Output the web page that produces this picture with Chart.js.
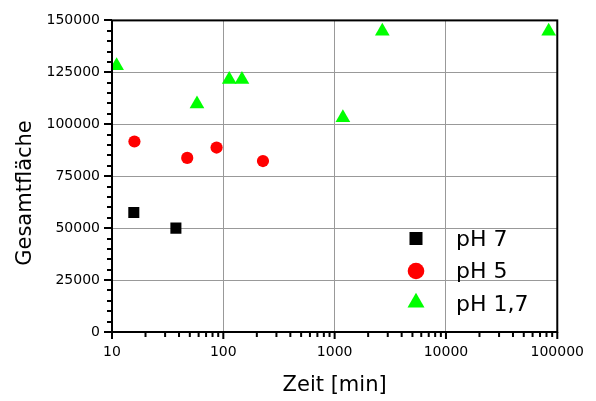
<!DOCTYPE html>
<html>
<head>
<meta charset="utf-8">
<script src="https://cdn.jsdelivr.net/npm/chart.js@4/dist/chart.umd.min.js"></script>
<style>
  html, body { margin: 0; padding: 0; background: #fff; }
  canvas { display: block; }
</style>
</head>
<body>
<canvas id="c" width="596" height="401"></canvas>
<script>
// ---- data ----
const seriesLabels = ['pH 7', 'pH 5', 'pH 1,7'];

const ph7Time = [15.7, 37.5];
const ph7Area = [57500, 50000];

const ph5Time = [15.9, 47.4, 87, 227];
const ph5Area = [91700, 83800, 88800, 82300];

const ph17Time = [11, 58, 113, 147, 1186, 2680, 83700];
const ph17Area = [128200, 109800, 121600, 121600, 103100, 144800, 144800];

const xTickValues = [10, 100, 1000, 10000, 100000];
const yTickValues = [0, 25000, 50000, 75000, 100000, 125000, 150000];
const yMinorStep = 5000;

const xTitle = 'Zeit [min]';
const yTitle = 'Gesamtfläche';

const FONT = 'DejaVu Sans';

function pts(xs, ys) { return xs.map((x, i) => ({ x: x, y: ys[i] })); }

const framePlugin = {
  id: 'frameAndTicks',
  afterDatasetsDraw(chart) {
    const ctx = chart.ctx;
    const a = chart.chartArea;
    const xs = chart.scales.x, ys = chart.scales.y;
    ctx.save();
    ctx.strokeStyle = '#000';
    ctx.lineWidth = 2;
    ctx.strokeRect(a.left, a.top, a.right - a.left, a.bottom - a.top);
    // y ticks (outward, left)
    ctx.beginPath();
    for (let v = yTickValues[0]; v <= yTickValues[yTickValues.length - 1]; v += yMinorStep) {
      const py = Math.round(ys.getPixelForValue(v));
      const major = yTickValues.includes(v);
      const len = major ? 8 : 5;
      ctx.moveTo(a.left - len, py);
      ctx.lineTo(a.left, py);
    }
    ctx.stroke();
    // x ticks (outward, down)
    ctx.beginPath();
    for (let d = 0; d < xTickValues.length; d++) {
      const base = xTickValues[d];
      const px = xs.getPixelForValue(base);
      ctx.moveTo(px, a.bottom);
      ctx.lineTo(px, a.bottom + 7);
      if (d < xTickValues.length - 1) {
        for (let m = 2; m <= 9; m++) {
          const mx = xs.getPixelForValue(base * m);
          ctx.moveTo(mx, a.bottom);
          ctx.lineTo(mx, a.bottom + 5);
        }
      }
    }
    ctx.stroke();
    ctx.restore();
  },
  afterDraw(chart) {
    const ctx = chart.ctx;
    const H = Chart.helpers;
    // y axis title (placed as in the reference, below the plot's centre)
    ctx.save();
    ctx.translate(26, 193);
    ctx.rotate(-Math.PI / 2);
    ctx.fillStyle = '#000';
    ctx.font = '21px "' + FONT + '"';
    ctx.textAlign = 'center';
    ctx.textBaseline = 'middle';
    ctx.fillText(yTitle, 0, 0);
    ctx.restore();

    // legend inside plot area
    const items = [
      { style: 'rect', r: 9.2, color: '#000000', cy: 238.5 },
      { style: 'circle', r: 8.3, color: '#ff0000', cy: 271 },
      { style: 'triangle', r: 9.8, color: '#00ff00', cy: 302.5 }
    ];
    const textY = [240.2, 272.2, 305.5];
    ctx.save();
    items.forEach((it, i) => {
      ctx.fillStyle = it.color;
      ctx.strokeStyle = it.color;
      H.drawPoint(ctx, { pointStyle: it.style, radius: it.r, rotation: 0, borderWidth: 0 }, 416, it.cy);
      ctx.fillStyle = '#000';
      ctx.font = '22px "' + FONT + '"';
      ctx.textAlign = 'left';
      ctx.textBaseline = 'middle';
      ctx.fillText(seriesLabels[i], 456, textY[i]);
    });
    ctx.restore();
  }
};

new Chart(document.getElementById('c'), {
  type: 'scatter',
  data: {
    datasets: [
      { label: seriesLabels[0], data: pts(ph7Time, ph7Area), pointStyle: 'rect', pointRadius: 7.8,
        backgroundColor: '#000000', borderColor: '#000000', borderWidth: 0, clip: 0 },
      { label: seriesLabels[1], data: pts(ph5Time, ph5Area), pointStyle: 'circle', pointRadius: 6.1,
        backgroundColor: '#ff0000', borderColor: '#ff0000', borderWidth: 0, clip: 0 },
      { label: seriesLabels[2], data: pts(ph17Time, ph17Area), pointStyle: 'triangle', pointRadius: 8.5,
        backgroundColor: '#00ff00', borderColor: '#00ff00', borderWidth: 0, clip: 0 }
    ]
  },
  options: {
    responsive: false,
    animation: false,
    layout: { padding: { top: 17, right: 36, left: 0, bottom: 0 } },
    plugins: { legend: { display: false }, tooltip: { enabled: false } },
    scales: {
      x: {
        type: 'logarithmic',
        min: xTickValues[0],
        max: xTickValues[xTickValues.length - 1],
        afterBuildTicks: (s) => { s.ticks = xTickValues.map(v => ({ value: v })); },
        afterFit: (s) => { s.height = 69; },
        ticks: {
          autoSkip: false, maxRotation: 0, padding: 12, color: '#000',
          font: { family: FONT, size: 14 },
          callback: (v) => String(v)
        },
        grid: {
          drawTicks: false, lineWidth: 1,
          color: (c) => (c.tick && (c.tick.value === xTickValues[0] || c.tick.value === xTickValues[xTickValues.length - 1])) ? 'rgba(0,0,0,0)' : '#999999'
        },
        border: { display: false },
        title: { display: true, text: xTitle, color: '#000', font: { family: FONT, size: 21 }, padding: { top: 0, bottom: 2.5 } }
      },
      y: {
        min: yTickValues[0],
        max: yTickValues[yTickValues.length - 1],
        afterBuildTicks: (s) => { s.ticks = yTickValues.map(v => ({ value: v })); },
        afterFit: (s) => { s.width = 112; },
        ticks: {
          autoSkip: false, padding: 12, color: '#000',
          font: { family: FONT, size: 14 },
          callback: (v) => String(v)
        },
        grid: {
          drawTicks: false, lineWidth: 1,
          color: (c) => (c.tick && (c.tick.value === yTickValues[0] || c.tick.value === yTickValues[yTickValues.length - 1])) ? 'rgba(0,0,0,0)' : '#999999'
        },
        border: { display: false },
        title: { display: false }
      }
    }
  },
  plugins: [framePlugin]
});
</script>
</body>
</html>
